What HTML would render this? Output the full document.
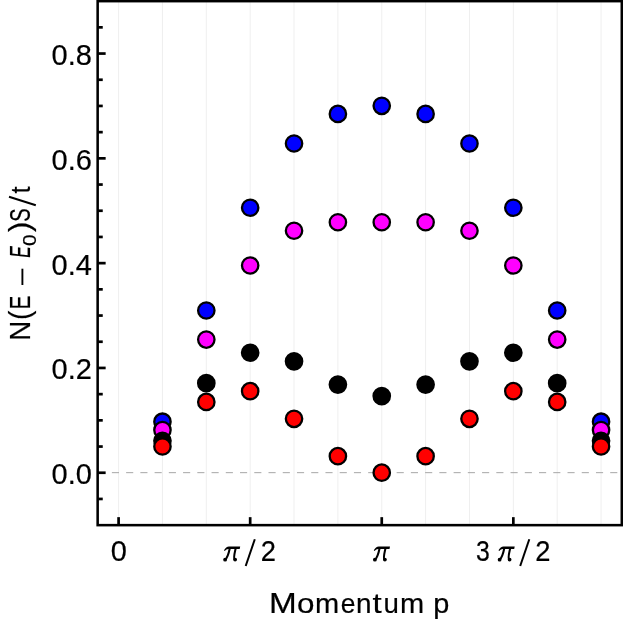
<!DOCTYPE html>
<html><head><meta charset="utf-8"><title>chart</title>
<style>
html,body{margin:0;padding:0;background:#fff;}
body{width:623px;height:623px;overflow:hidden;position:relative;font-family:"Liberation Sans",sans-serif;}
svg{position:absolute;left:0;top:0;display:block;will-change:transform;}
text{font-family:"Liberation Sans",sans-serif;fill:#000;stroke:#000;stroke-width:0.2px;}
</style></head><body>
<svg width="623" height="623" viewBox="0 0 623 623">
<rect x="0" y="0" width="623" height="623" fill="#fff"/>

<g stroke="#efefef" stroke-width="1">
<line x1="118.59" y1="1.15" x2="118.59" y2="525.15"/>
<line x1="162.45" y1="1.15" x2="162.45" y2="525.15"/>
<line x1="206.31" y1="1.15" x2="206.31" y2="525.15"/>
<line x1="250.17" y1="1.15" x2="250.17" y2="525.15"/>
<line x1="294.03" y1="1.15" x2="294.03" y2="525.15"/>
<line x1="337.89" y1="1.15" x2="337.89" y2="525.15"/>
<line x1="381.75" y1="1.15" x2="381.75" y2="525.15"/>
<line x1="425.61" y1="1.15" x2="425.61" y2="525.15"/>
<line x1="469.47" y1="1.15" x2="469.47" y2="525.15"/>
<line x1="513.33" y1="1.15" x2="513.33" y2="525.15"/>
<line x1="557.19" y1="1.15" x2="557.19" y2="525.15"/>
<line x1="601.05" y1="1.15" x2="601.05" y2="525.15"/>
</g>
<line x1="97.65" y1="472.67" x2="621.8" y2="472.67" stroke="#a6a6a6" stroke-width="1" stroke-dasharray="7.119 7.119"/>
<g stroke="#000" stroke-width="2.7">
<line x1="97.65" y1="498.95" x2="102.75" y2="498.95"/>
<line x1="97.65" y1="472.75" x2="105.65" y2="472.75"/>
<line x1="97.65" y1="446.55" x2="102.75" y2="446.55"/>
<line x1="97.65" y1="420.35" x2="102.75" y2="420.35"/>
<line x1="97.65" y1="394.15" x2="102.75" y2="394.15"/>
<line x1="97.65" y1="367.95" x2="105.65" y2="367.95"/>
<line x1="97.65" y1="341.75" x2="102.75" y2="341.75"/>
<line x1="97.65" y1="315.55" x2="102.75" y2="315.55"/>
<line x1="97.65" y1="289.35" x2="102.75" y2="289.35"/>
<line x1="97.65" y1="263.15" x2="105.65" y2="263.15"/>
<line x1="97.65" y1="236.95" x2="102.75" y2="236.95"/>
<line x1="97.65" y1="210.75" x2="102.75" y2="210.75"/>
<line x1="97.65" y1="184.55" x2="102.75" y2="184.55"/>
<line x1="97.65" y1="158.35" x2="105.65" y2="158.35"/>
<line x1="97.65" y1="132.15" x2="102.75" y2="132.15"/>
<line x1="97.65" y1="105.95" x2="102.75" y2="105.95"/>
<line x1="97.65" y1="79.75" x2="102.75" y2="79.75"/>
<line x1="97.65" y1="53.55" x2="105.65" y2="53.55"/>
<line x1="97.65" y1="27.35" x2="102.75" y2="27.35"/>
<line x1="118.59" y1="525.15" x2="118.59" y2="517.15"/>
<line x1="250.17" y1="525.15" x2="250.17" y2="517.15"/>
<line x1="381.75" y1="525.15" x2="381.75" y2="517.15"/>
<line x1="513.33" y1="525.15" x2="513.33" y2="517.15"/>
</g>
<g stroke="#000" stroke-width="2.3">
<circle cx="162.45" cy="421.7" r="8.2" fill="#0000ff"/>
<circle cx="162.45" cy="430.1" r="8.2" fill="#ff00ff"/>
<circle cx="162.45" cy="440.8" r="8.2" fill="#000000"/>
<circle cx="162.45" cy="446.5" r="8.2" fill="#ff0000"/>
<circle cx="206.31" cy="310.5" r="8.2" fill="#0000ff"/>
<circle cx="206.31" cy="339.6" r="8.2" fill="#ff00ff"/>
<circle cx="206.31" cy="383.2" r="8.2" fill="#000000"/>
<circle cx="206.31" cy="401.9" r="8.2" fill="#ff0000"/>
<circle cx="250.17" cy="207.75" r="8.2" fill="#0000ff"/>
<circle cx="250.17" cy="265.5" r="8.2" fill="#ff00ff"/>
<circle cx="250.17" cy="352.75" r="8.2" fill="#000000"/>
<circle cx="250.17" cy="391.15" r="8.2" fill="#ff0000"/>
<circle cx="294.03" cy="143.5" r="8.2" fill="#0000ff"/>
<circle cx="294.03" cy="230.75" r="8.2" fill="#ff00ff"/>
<circle cx="294.03" cy="361.3" r="8.2" fill="#000000"/>
<circle cx="294.03" cy="418.85" r="8.2" fill="#ff0000"/>
<circle cx="337.89" cy="113.9" r="8.2" fill="#0000ff"/>
<circle cx="337.89" cy="222.25" r="8.2" fill="#ff00ff"/>
<circle cx="337.89" cy="384.6" r="8.2" fill="#000000"/>
<circle cx="337.89" cy="456.15" r="8.2" fill="#ff0000"/>
<circle cx="381.75" cy="105.85" r="8.2" fill="#0000ff"/>
<circle cx="381.75" cy="222.25" r="8.2" fill="#ff00ff"/>
<circle cx="381.75" cy="396.1" r="8.2" fill="#000000"/>
<circle cx="381.75" cy="472.67" r="8.2" fill="#ff0000"/>
<circle cx="425.61" cy="113.9" r="8.2" fill="#0000ff"/>
<circle cx="425.61" cy="222.25" r="8.2" fill="#ff00ff"/>
<circle cx="425.61" cy="384.6" r="8.2" fill="#000000"/>
<circle cx="425.61" cy="456.15" r="8.2" fill="#ff0000"/>
<circle cx="469.47" cy="143.5" r="8.2" fill="#0000ff"/>
<circle cx="469.47" cy="230.75" r="8.2" fill="#ff00ff"/>
<circle cx="469.47" cy="361.3" r="8.2" fill="#000000"/>
<circle cx="469.47" cy="418.85" r="8.2" fill="#ff0000"/>
<circle cx="513.33" cy="207.75" r="8.2" fill="#0000ff"/>
<circle cx="513.33" cy="265.5" r="8.2" fill="#ff00ff"/>
<circle cx="513.33" cy="352.75" r="8.2" fill="#000000"/>
<circle cx="513.33" cy="391.15" r="8.2" fill="#ff0000"/>
<circle cx="557.19" cy="310.5" r="8.2" fill="#0000ff"/>
<circle cx="557.19" cy="339.6" r="8.2" fill="#ff00ff"/>
<circle cx="557.19" cy="383.2" r="8.2" fill="#000000"/>
<circle cx="557.19" cy="401.9" r="8.2" fill="#ff0000"/>
<circle cx="601.05" cy="421.7" r="8.2" fill="#0000ff"/>
<circle cx="601.05" cy="430.1" r="8.2" fill="#ff00ff"/>
<circle cx="601.05" cy="440.8" r="8.2" fill="#000000"/>
<circle cx="601.05" cy="446.5" r="8.2" fill="#ff0000"/>
</g>
<rect x="97.65" y="1.15" width="524.15" height="524.0" fill="none" stroke="#000" stroke-width="2.55"/>
<text transform="translate(92.0,484.15) scale(0.985,1)" font-size="29.5" text-anchor="end">0.0</text>
<text transform="translate(92.0,379.35) scale(0.985,1)" font-size="29.5" text-anchor="end">0.2</text>
<text transform="translate(92.0,274.55) scale(0.985,1)" font-size="29.5" text-anchor="end">0.4</text>
<text transform="translate(92.0,169.75) scale(0.985,1)" font-size="29.5" text-anchor="end">0.6</text>
<text transform="translate(92.0,64.95) scale(0.985,1)" font-size="29.5" text-anchor="end">0.8</text>
<text transform="translate(110.79,561.00) scale(0.983,1)" font-size="29.5">0</text>
<g transform="translate(368.00,540)" fill="none" stroke="#000" stroke-linecap="round">
<path d="M22 6.6 L10.8 6.6 C8.8 6.6 7.2 8.2 5.8 10.3 L6.5 11 C7.7 9.6 8.7 8.9 10.2 8.9 L21.5 8.9 Z" fill="#000" stroke="none"/>
<path d="M11.6 8.2 C10.6 13 9.6 17.6 6.9 19.7" stroke-width="2.05"/>
<path d="M17.5 8.2 C16.6 12.5 14.8 18 16.6 19.8" stroke-width="2.05"/>
<circle cx="6.9" cy="19.7" r="1.3" stroke-width="1.2" fill="#000"/>
<circle cx="16.9" cy="19.6" r="1.3" stroke-width="1.2" fill="#000"/>
</g>
<g transform="translate(218.20,540)" fill="none" stroke="#000" stroke-linecap="round">
<path d="M22 6.6 L10.8 6.6 C8.8 6.6 7.2 8.2 5.8 10.3 L6.5 11 C7.7 9.6 8.7 8.9 10.2 8.9 L21.5 8.9 Z" fill="#000" stroke="none"/>
<path d="M11.6 8.2 C10.6 13 9.6 17.6 6.9 19.7" stroke-width="2.05"/>
<path d="M17.5 8.2 C16.6 12.5 14.8 18 16.6 19.8" stroke-width="2.05"/>
<circle cx="6.9" cy="19.7" r="1.3" stroke-width="1.2" fill="#000"/>
<circle cx="16.9" cy="19.6" r="1.3" stroke-width="1.2" fill="#000"/>
</g>
<line x1="245.70" y1="566.0" x2="254.80" y2="539.3" stroke="#000" stroke-width="2"/>
<text transform="translate(260.72,561.00) scale(0.926,1)" font-size="29.5">2</text>
<g transform="translate(492.70,540)" fill="none" stroke="#000" stroke-linecap="round">
<path d="M22 6.6 L10.8 6.6 C8.8 6.6 7.2 8.2 5.8 10.3 L6.5 11 C7.7 9.6 8.7 8.9 10.2 8.9 L21.5 8.9 Z" fill="#000" stroke="none"/>
<path d="M11.6 8.2 C10.6 13 9.6 17.6 6.9 19.7" stroke-width="2.05"/>
<path d="M17.5 8.2 C16.6 12.5 14.8 18 16.6 19.8" stroke-width="2.05"/>
<circle cx="6.9" cy="19.7" r="1.3" stroke-width="1.2" fill="#000"/>
<circle cx="16.9" cy="19.6" r="1.3" stroke-width="1.2" fill="#000"/>
</g>
<line x1="520.20" y1="566.0" x2="529.30" y2="539.3" stroke="#000" stroke-width="2"/>
<text transform="translate(535.22,561.00) scale(0.926,1)" font-size="29.5">2</text>
<text transform="translate(476.03,561.00) scale(0.840,1)" font-size="29.5">3</text>
<text transform="translate(269.10,612.50) scale(1.137,1)" font-size="29.3">M</text>
<text transform="translate(297.12,612.50) scale(1.071,0.95)" font-size="29.3">o</text>
<text transform="translate(315.08,612.50) scale(0.992,0.95)" font-size="29.3">m</text>
<text transform="translate(340.67,612.50) scale(0.902,0.95)" font-size="29.3">e</text>
<text transform="translate(355.96,612.50) scale(0.952,0.95)" font-size="29.3">n</text>
<text transform="translate(372.40,612.50) scale(1.129,0.93)" font-size="29.3">t</text>
<text transform="translate(383.57,612.50) scale(0.944,0.95)" font-size="29.3">u</text>
<text transform="translate(399.98,612.50) scale(0.992,0.95)" font-size="29.3">m</text>
<text transform="translate(433.19,612.50) scale(0.987,0.95)" font-size="29.3">p</text>
<text transform="translate(30.30,340.67) rotate(-90) scale(0.924,1)" font-size="30">N</text>
<text transform="translate(30.30,319.93) rotate(-90) scale(0.948,1)" font-size="30">(</text>
<text transform="translate(30.30,309.29) rotate(-90) scale(0.677,1)" font-size="30">E</text>
<line x1="22.4" y1="285" x2="22.4" y2="268.7" stroke="#000" stroke-width="1.9"/>
<text transform="translate(30.30,257.67) rotate(-90) scale(0.576,1)" font-size="30" font-style="italic">E</text>
<text transform="translate(35.60,246.05) rotate(-90) scale(1.156,1)" font-size="18">0</text>
<text transform="translate(30.30,232.10) rotate(-90) scale(1.031,1)" font-size="30">)</text>
<text transform="translate(30.30,221.63) rotate(-90) scale(0.674,1)" font-size="30">S</text>
<line x1="35.8" y1="205.3" x2="9.0" y2="196.7" stroke="#000" stroke-width="2"/>
<text transform="translate(30.30,193.50) rotate(-90) scale(0.865,0.93)" font-size="30">t</text>
</svg></body></html>
